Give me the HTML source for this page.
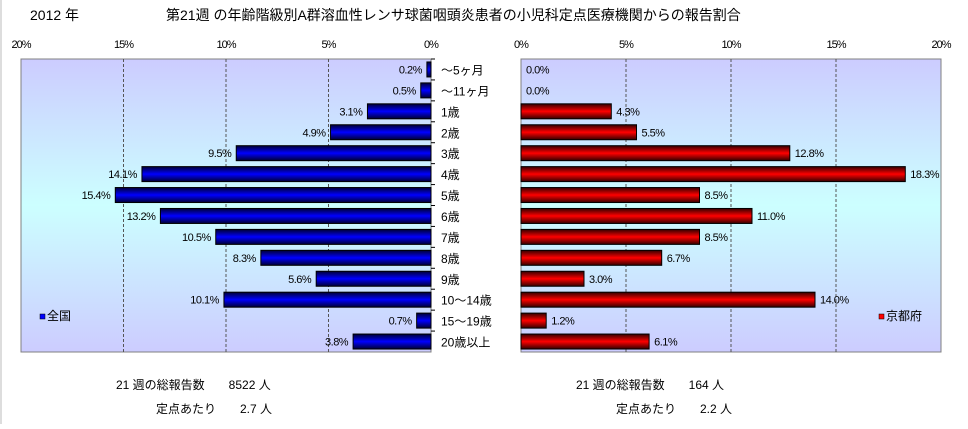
<!DOCTYPE html>
<html><head><meta charset="utf-8">
<style>
body{margin:0;background:#fff;width:968px;height:424px;overflow:hidden;font-family:"Liberation Sans","Noto Sans CJK JP",sans-serif;}
svg text{font-family:"Liberation Sans","Noto Sans CJK JP",sans-serif;}
</style></head><body>
<svg id="chart" width="968" height="424" xmlns="http://www.w3.org/2000/svg">
<defs>
<linearGradient id="bg" x1="0" y1="0" x2="0" y2="1">
<stop offset="0" stop-color="#ccccff"/><stop offset="0.5" stop-color="#ccffff"/><stop offset="1" stop-color="#ccccff"/>
</linearGradient>
<linearGradient id="gb" x1="0" y1="0" x2="0" y2="1">
<stop offset="0" stop-color="#000033"/><stop offset="0.5" stop-color="#0000ff"/><stop offset="1" stop-color="#000033"/>
</linearGradient>
<linearGradient id="gr" x1="0" y1="0" x2="0" y2="1">
<stop offset="0" stop-color="#330000"/><stop offset="0.5" stop-color="#ff0000"/><stop offset="1" stop-color="#330000"/>
</linearGradient>
</defs>
<rect x="0" y="0" width="2" height="424" fill="#ddd"/>
<text x="30" y="20" font-size="14">2012 年</text>
<text x="166" y="20" font-size="14">第21週 の年齢階級別A群溶血性レンサ球菌咽頭炎患者の小児科定点医療機関からの報告割合</text>
<rect x="21" y="59" width="410" height="293" fill="url(#bg)" stroke="#808080"/>
<rect x="521" y="59" width="420" height="293" fill="url(#bg)" stroke="#808080"/>
<g id="g"></g>
<rect x="40" y="314" width="5" height="5" fill="#0000ff" stroke="#000" stroke-width="0.5"/>
<text x="47" y="320" font-size="12">全国</text>
<rect x="879" y="314" width="5" height="5" fill="#ff0000" stroke="#000" stroke-width="0.5"/>
<text x="886" y="320" font-size="12">京都府</text>
<text x="116" y="389" font-size="12">21 週の総報告数　　8522 人</text>
<text x="156" y="413" font-size="12">定点あたり　　2.7 人</text>
<text x="576" y="389" font-size="12">21 週の総報告数　　164 人</text>
<text x="616" y="413" font-size="12">定点あたり　　2.2 人</text>
</svg>
<script>
const categories=["～5ヶ月","～11ヶ月","1歳","2歳","3歳","4歳","5歳","6歳","7歳","8歳","9歳","10～14歳","15～19歳","20歳以上"];
const nationalValues=[0.2,0.5,3.1,4.9,9.5,14.1,15.4,13.2,10.5,8.3,5.6,10.1,0.7,3.8];
const kyotoValues=[0.0,0.0,4.3,5.5,12.8,18.3,8.5,11.0,8.5,6.7,3.0,14.0,1.2,6.1];
const tickValues=[0,5,10,15,20];
const NS="http://www.w3.org/2000/svg";
const g=document.getElementById('g');
const top0=59,bot0=352,rowH=(bot0-top0)/categories.length,barH=15;
const xL=v=>431-v*20.5;
const xR=v=>521+v*21;
const yRow=i=>top0+i*rowH+rowH/2;
function mk(tag,attrs){const e=document.createElementNS(NS,tag);for(const k in attrs)e.setAttribute(k,attrs[k]);g.appendChild(e);return e;}
tickValues.forEach(t=>{
  if(t>0&&t<20){
    const l1=mk('line',{x1:xL(t),x2:xL(t),y1:top0,y2:bot0,stroke:'#555','stroke-dasharray':'3,2'});
    
    
    const l2=mk('line',{x1:xR(t),x2:xR(t),y1:top0,y2:bot0,stroke:'#555','stroke-dasharray':'3,2'});
    
    
  }
  const a=mk('text',{x:xL(t),y:48,'font-size':11,'text-anchor':'middle','letter-spacing':'-1'});a.textContent=t+'%';
  
  
  const b=mk('text',{x:xR(t),y:48,'font-size':11,'text-anchor':'middle','letter-spacing':'-1'});b.textContent=t+'%';
  
  
});
categories.forEach((c,i)=>{
  const y=yRow(i);
  const lab=mk('text',{x:441,y:y+5,'font-size':12});lab.textContent=c;
  
  
  const v=nationalValues[i];
  const r=mk('rect',{x:xL(v),y:y-barH/2,width:Math.max(431-xL(v),0),height:barH,fill:'url(#gb)',stroke:'#000','stroke-width':1});
  
  
  const t=mk('text',{x:xL(v)-5,y:y+4,'font-size':11,'text-anchor':'end','letter-spacing':'-0.5'});t.textContent=v.toFixed(1)+'%';
  
  
  const w=kyotoValues[i];
  const r2=mk('rect',{x:521,y:y-barH/2,width:Math.max(xR(w)-521,0),height:barH,fill:'url(#gr)',stroke:'#000','stroke-width':w>0?1:0});
  
  
  const t2=mk('text',{x:xR(w)+5,y:y+4,'font-size':11,'letter-spacing':'-0.5'});t2.textContent=w.toFixed(1)+'%';
  
  
  const k1=mk('line',{x1:431,x2:435,y1:top0+i*rowH,y2:top0+i*rowH,stroke:'#000'});
  
  
});
</script>
</body></html>
